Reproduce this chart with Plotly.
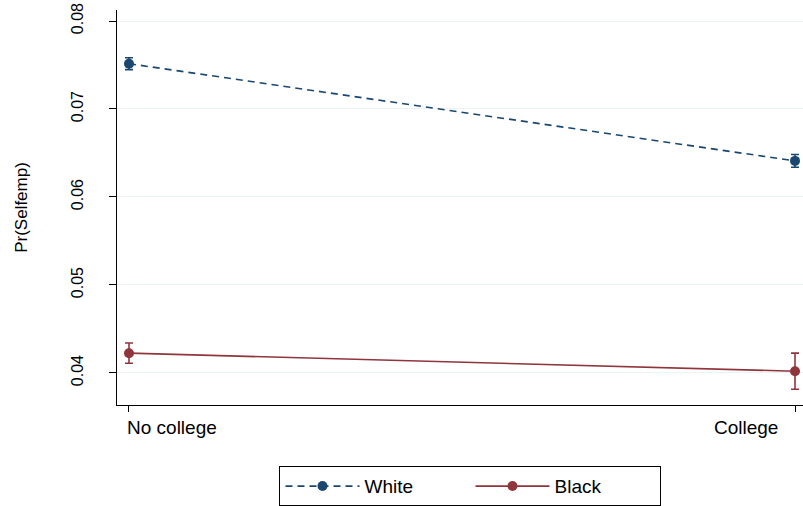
import plotly.graph_objects as go

categories = ["No college", "College"]
x_pos = [0, 1]
white_vals = [0.07515, 0.06410]
white_err = [0.00068, 0.00072]
black_vals = [0.04225, 0.04020]
black_err = [0.00115, 0.00205]
y_ticks = [0.04, 0.05, 0.06, 0.07, 0.08]

navy = "#1a476f"
maroon = "#90353b"
font_family = "Liberation Sans, Arial, sans-serif"

fig = go.Figure()
fig.add_trace(go.Scatter(
    x=x_pos, y=white_vals, name="White", mode="lines+markers",
    line=dict(color=navy, width=1.6, dash="7px,5px"),
    marker=dict(color=navy, size=10, symbol="circle"),
    error_y=dict(type="data", array=white_err, visible=True, color=navy, thickness=1.6, width=4),
    cliponaxis=False,
))
fig.add_trace(go.Scatter(
    x=x_pos, y=black_vals, name="Black", mode="lines+markers",
    line=dict(color=maroon, width=1.6),
    marker=dict(color=maroon, size=10, symbol="circle"),
    error_y=dict(type="data", array=black_err, visible=True, color=maroon, thickness=1.6, width=4),
    cliponaxis=False,
))

# category labels placed at the category positions on the x axis (kept inside the figure like Stata does)
label_anchor = ["left", "right"]
label_shift = [-4, -15]
for xv, txt, anc, sh in zip(x_pos, categories, label_anchor, label_shift):
    fig.add_annotation(
        x=xv, xref="x", y=0, yref="paper", text=txt, showarrow=False,
        xanchor=anc, yanchor="top", xshift=sh, yshift=-10,
        font=dict(size=19, color="black", family=font_family),
    )

fig.update_layout(
    width=803, height=506,
    margin=dict(l=117, r=0, t=10, b=101, autoexpand=False),
    paper_bgcolor="white", plot_bgcolor="white",
    font=dict(family=font_family, size=19, color="black"),
    showlegend=True,
    legend=dict(
        orientation="h", x=0.5153, xanchor="center", y=-0.155, yanchor="top",
        bordercolor="black", borderwidth=1, bgcolor="white",
        font=dict(size=19), itemwidth=74, entrywidth=101,
    ),
    xaxis=dict(
        range=[-0.018, 1.012], tickmode="array", tickvals=x_pos, ticktext=categories,
        showticklabels=False,
        showgrid=False, zeroline=False, showline=True, linecolor="black", linewidth=1,
        ticks="outside", ticklen=6, tickcolor="black",
        automargin=False,
    ),
    yaxis=dict(
        range=[0.03636, 0.08125], tickmode="array", tickvals=y_ticks,
        ticktext=[f"{v:.2f}" for v in y_ticks], tickangle=-90,
        showgrid=True, gridcolor="#eaf2f3", gridwidth=1, zeroline=False,
        showline=True, linecolor="black", linewidth=1,
        ticks="outside", ticklen=7, tickcolor="black", tickfont=dict(size=16),
        ticklabelstandoff=20, automargin=False,
        title=dict(text="Pr(Selfemp)", font=dict(size=17), standoff=36),
    ),
)

fig.write_html(
    "out.html",
    config={"displayModeBar": False},
    post_script="document.body.style.margin='0px';document.body.style.overflow='hidden';",
)
